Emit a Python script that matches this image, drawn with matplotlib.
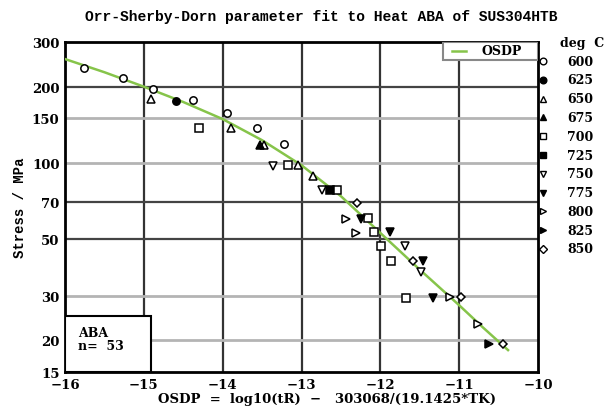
import matplotlib
matplotlib.use("Agg")
import matplotlib.pyplot as plt
from matplotlib.patches import Rectangle
from matplotlib.lines import Line2D

# creep rupture points, OSD parameter vs stress (MPa), grouped by test temperature
temps = [600, 625, 650, 675, 700, 725, 750, 775, 800, 825, 850]
markers = ['o', 'o', '^', '^', 's', 's', 'v', 'v', '>', '>', 'D']
filled = [False, True, False, True, False, True, False, True, False, True, False]

p600 = [-15.76, -15.26, -14.89, -14.38, -13.94, -13.57, -13.22]
s600 = [236, 216, 196, 177, 157, 138, 119]
p625 = [-14.59]
s625 = [176]
p650 = [-14.91, -13.90, -13.47, -13.04, -12.85]
s650 = [179, 138, 118, 98.5, 89]
p675 = [-13.53]
s675 = [118]
p700 = [-14.30, -13.17, -12.55, -12.16, -12.08, -11.99, -11.87, -11.68]
s700 = [137, 98.5, 78, 60.5, 53.5, 47, 41, 29.3]
p725 = [-12.64]
s725 = [78]
p750 = [-13.36, -12.74, -11.69, -11.48]
s750 = [97.6, 78, 47, 37.2]
p775 = [-12.24, -11.88, -11.46, -11.33]
s775 = [60.4, 53.5, 41, 29.3]
p800 = [-12.43, -12.31, -11.12, -10.76]
s800 = [60.1, 53, 29.5, 23.2]
p825 = [-10.62]
s825 = [19.3]
p850 = [-12.30, -11.59, -10.98, -10.44]
s850 = [69.4, 41, 29.5, 19.3]

series_p = [p600, p625, p650, p675, p700, p725, p750, p775, p800, p825, p850]
series_s = [s600, s625, s650, s675, s700, s725, s750, s775, s800, s825, s850]

# fitted OSDP master curve
fit_p = [-16, -15.5, -15, -14.5, -14, -13.5, -13, -12.5, -12, -11.5, -11, -10.7, -10.38]
fit_s = [257, 228, 200, 174, 149, 123, 98, 74, 53, 38, 27.5, 22.5, 18.3]

yticks = [15, 20, 30, 50, 70, 100, 150, 200, 300]
xticks = [-16, -15, -14, -13, -12, -11, -10]

serif = 'DejaVu Serif'
mono = 'Liberation Mono'
green = '#86c44a'

fig = plt.figure(figsize=(6.12, 4.14), dpi=100)
ax = fig.add_axes([65 / 612, 41 / 414, 473 / 612, 330 / 414])
ax.set_yscale('log')
ax.set_xlim(-16, -10)
ax.set_ylim(15, 300)

# grid: dark verticals, mixed horizontals
for x in xticks[1:-1]:
    ax.axvline(x, color='#333333', lw=1.6, zorder=1)
for y in [200, 70, 50]:
    ax.axhline(y, color='#444444', lw=1.6, zorder=1)
for y in [150, 100, 30, 20]:
    ax.axhline(y, color='#b4b4b4', lw=2.0, zorder=1)

ax.set_yticks(yticks)
ax.set_yticklabels([str(v) for v in yticks])
ax.yaxis.set_minor_locator(matplotlib.ticker.NullLocator())
ax.set_xticks(xticks)
ax.set_xticklabels(['\u2212%d' % abs(v) for v in xticks])
ax.tick_params(length=0, labelsize=9.5, pad=4)
for lab in ax.get_xticklabels() + ax.get_yticklabels():
    lab.set_family(serif)
    lab.set_fontweight('bold')
for sp in ax.spines.values():
    sp.set_linewidth(2)

fit_line, = ax.plot(fit_p, fit_s, color=green, lw=1.8, zorder=3)

for p, s, m, f in zip(series_p, series_s, markers, filled):
    ms = 4.2 if m == 'D' else 5.3
    ax.plot(p, s, ls='none', marker=m, ms=ms, mew=1.1,
            mec='black', mfc='black' if f else 'white', zorder=4)

# heat / sample count box
ax.add_patch(Rectangle((0, 0), 0.181, 0.171, transform=ax.transAxes,
                       facecolor='white', edgecolor='black', lw=1.5, zorder=5))
ax.text(0.027, 0.121, 'ABA', transform=ax.transAxes, family=serif,
        fontweight='bold', fontsize=9, va='center', zorder=6)
ax.text(0.027, 0.079, 'n=  53', transform=ax.transAxes, family=serif,
        fontweight='bold', fontsize=9, va='center', zorder=6)

# fit-line key
ax.add_patch(Rectangle((0.799, 0.945), 0.201, 0.055, transform=ax.transAxes,
                       facecolor='white', edgecolor='#888888', lw=1.5, zorder=5))
ax.add_line(Line2D([0.818, 0.847], [0.973, 0.973], transform=ax.transAxes,
                   color=green, lw=1.8, zorder=6))
ax.text(0.881, 0.973, 'OSDP', transform=ax.transAxes, family=serif,
        fontweight='bold', fontsize=9, va='center', zorder=6)

# temperature key to the right of the axes
fig.text(582 / 612, 1 - 43 / 414, 'deg  C', family=serif, fontweight='bold',
         fontsize=9, ha='center', va='center')
for i, (t, m, f) in enumerate(zip(temps, markers, filled)):
    yy = 1 - (62 + 18.8 * i) / 414
    ms = 4.0 if m == 'D' else 4.8
    fig.add_artist(Line2D([543 / 612], [yy], marker=m, ms=ms, mew=1.0,
                          mec='black', mfc='black' if f else 'white', ls='none'))
    fig.text(567 / 612, yy, str(t), family=serif, fontweight='bold',
             fontsize=9, va='center')

fig.text(0.525, 1 - 17 / 414,
         'Orr-Sherby-Dorn parameter fit to Heat ABA of SUS304HTB',
         family=mono, fontweight='bold', fontsize=10.5, ha='center', va='center')
fig.text(20 / 612, 0.497, 'Stress / MPa', family=mono, fontweight='bold',
         fontsize=10, rotation=90, ha='center', va='center')
fig.text(327 / 612, 1 - 400 / 414,
         'OSDP  =  log10(tR)  \u2212   303068/(19.1425*TK)',
         family=serif, fontweight='bold', fontsize=9.5, ha='center', va='center')

fig.savefig('out.png', dpi=100)
